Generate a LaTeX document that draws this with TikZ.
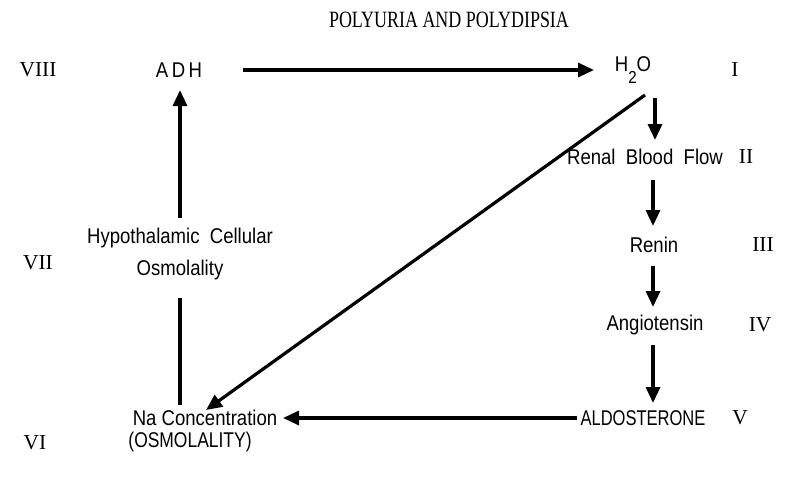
\documentclass[tikz,border=0pt]{standalone}
\usepackage{fontspec}
\setmainfont{Liberation Serif}
\newfontfamily\lblfont[FakeStretch=0.87]{Liberation Sans}
\newfontfamily\ttlfont[FakeStretch=0.77]{Liberation Serif}
\usetikzlibrary{arrows.meta}
\tikzset{
  lbl/.style={font=\lblfont\fontsize{16}{20}\selectfont, inner sep=0pt, anchor=center},
  rom/.style={font=\fontsize{16}{18}\selectfont, inner sep=0pt},
  ttl/.style={font=\ttlfont\fontsize{17.5}{20}\selectfont, inner sep=0pt},
  arr/.style={line width=2.4pt, -{Triangle[length=12pt,width=10.5pt]}},
  ln/.style={line width=2.4pt}
}
\begin{document}
\begin{tikzpicture}[x=0.75pt,y=-0.75pt]
\useasboundingbox (0,0) rectangle (806,489);
\node[ttl] (title) at (449,20) {POLYURIA AND POLYDIPSIA};
% roman numerals
\node[rom] (r8) at (38,70) {VIII};
\node[rom] (r1) at (735,70) {I};
\node[rom] (r2) at (746,157) {II};
\node[rom] (r3) at (763,245) {III};
\node[rom] (r4) at (760,325) {IV};
\node[rom] (r5) at (740,418) {V};
\node[rom] (r6) at (35,443) {VI};
\node[rom] (r7) at (38,263) {VII};
% labels
\node[lbl] (adh) at (179,70) {A\,D\,H};
\node[lbl] (h2o) at (633,70) {H\raisebox{-1.0ex}{\fontsize{13}{14}\selectfont 2}O};
\node[lbl] (rbf) at (645,157) {Renal\ \ Blood\ \ Flow};
\node[lbl] (renin) at (654,245) {Renin};
\node[lbl] (ang) at (655,325) {Angiotensin};
\node[lbl] (ald) at (643,418) {\scalebox{0.89}[1]{ALDOSTERONE}};
\node[lbl] (na) at (205,418) {Na Concentration};
\node[lbl] (osm) at (190,442) {\scalebox{0.94}[1]{(OSMOLALITY)}};
\node[lbl] (hyp) at (180,238) {Hypothalamic\ \ Cellular};
\node[lbl] (osl) at (180,270) {Osmolality};
% connector end points
\coordinate (a1) at (243,70);  \coordinate (a2) at (594,70);
\coordinate (b1) at (655,98);  \coordinate (b2) at (655,140);
\coordinate (c1) at (653,180); \coordinate (c2) at (653,226);
\coordinate (d1) at (653,266); \coordinate (d2) at (653,307);
\coordinate (e1) at (653,345); \coordinate (e2) at (653,403);
\coordinate (f1) at (577,418); \coordinate (f2) at (283,418);
\coordinate (g1) at (180,405); \coordinate (g2) at (180,298);
\coordinate (h1) at (180,218); \coordinate (h2) at (180,90);
\coordinate (k1) at (645,95);  \coordinate (k2) at (206,410);
\draw[arr] (a1) -- (a2);
\draw[arr] (b1) -- (b2);
\draw[arr] (c1) -- (c2);
\draw[arr] (d1) -- (d2);
\draw[arr] (e1) -- (e2);
\draw[arr] (f1) -- (f2);
\draw[ln]  (g1) -- (g2);
\draw[arr] (h1) -- (h2);
\draw[arr] (k1) -- (k2);
\end{tikzpicture}
\end{document}
